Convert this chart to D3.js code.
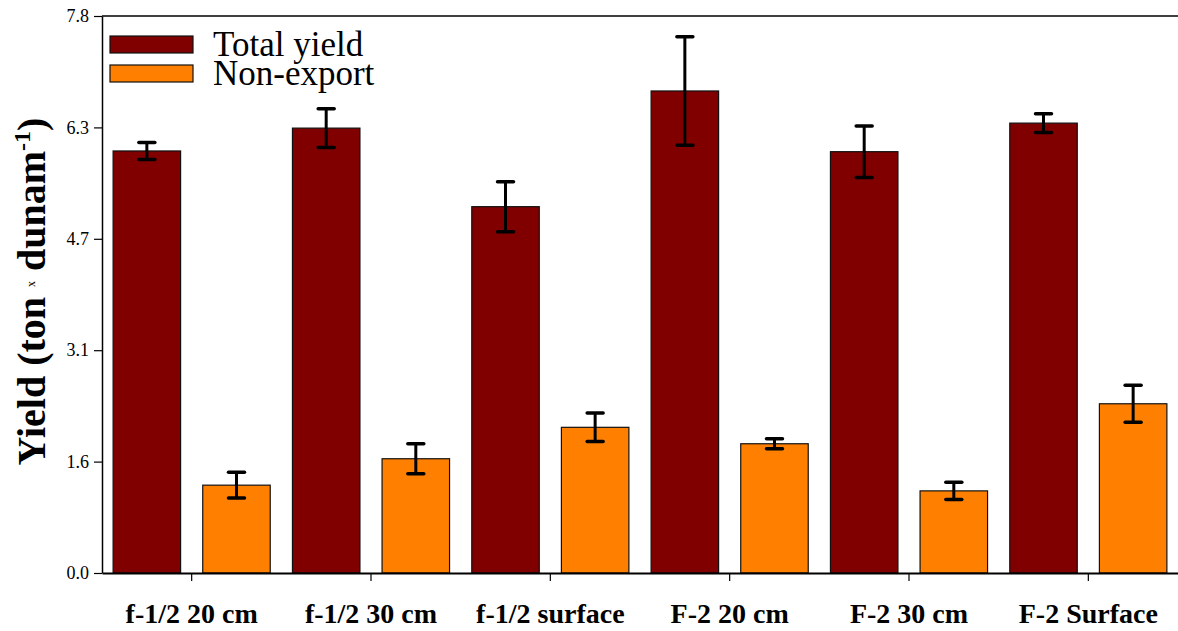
<!DOCTYPE html>
<html>
<head>
<meta charset="utf-8">
<script src="https://cdn.jsdelivr.net/npm/d3@7"></script>
<style>
  body { margin: 0; background: #fff; }
  svg text { font-family: "Liberation Serif", "Times New Roman", Times, serif !important; }
</style>
</head>
<body>
<div id="chart"></div>
<script>
// data
var categories = ["f-1/2 20 cm", "f-1/2 30 cm", "f-1/2 surface", "F-2 20 cm", "F-2 30 cm", "F-2 Surface"];
var totalYield = [5.91, 6.23, 5.13, 6.75, 5.90, 6.30];
var totalErr   = [0.12, 0.27, 0.35, 0.76, 0.36, 0.13];
var nonExport  = [1.23, 1.60, 2.04, 1.81, 1.15, 2.37];
var nonExportErr = [0.18, 0.21, 0.20, 0.07, 0.12, 0.26];
var yTicks = [0, 1.56, 3.12, 4.68, 6.24, 7.8];
var yTickLabels = ["0.0", "1.6", "3.1", "4.7", "6.3", "7.8"];
var seriesNames = ["Total yield", "Non-export"];
var colors = ["#800000", "#ff8000"];

var W = 1178, H = 631;
var margin = { top: 16, right: 0, bottom: 58, left: 102 },
  width = W - margin.left - margin.right,
  height = H - margin.top - margin.bottom;

var svg = d3.select("#chart")
  .append("svg")
  .attr("width", W)
  .attr("height", H)
  .append("g")
  .attr("transform", "translate(" + margin.left + "," + margin.top + ")");

var x = d3.scaleBand()
  .domain(categories)
  .range([0, width])
  .paddingInner(0)
  .paddingOuter(0);

var x1 = d3.scaleBand()
  .domain([0, 1])
  .range([0, x.bandwidth()])
  .paddingInner(0.247)
  .paddingOuter(0.124);

var y = d3.scaleLinear()
  .domain([0, 7.8])
  .range([height, 0]);

// top frame line
svg.append("line")
  .attr("x1", 0).attr("x2", width)
  .attr("y1", 0).attr("y2", 0)
  .attr("stroke", "#000").attr("stroke-width", 1.5);

var rows = categories.map(function (c, i) {
  return [
    { cat: c, s: 0, v: totalYield[i], e: totalErr[i] },
    { cat: c, s: 1, v: nonExport[i], e: nonExportErr[i] }
  ];
});
var flat = [].concat.apply([], rows);

// bars
svg.append("g")
  .selectAll("rect")
  .data(flat)
  .enter()
  .append("rect")
  .attr("x", function (d) { return x(d.cat) + x1(d.s); })
  .attr("y", function (d) { return y(d.v); })
  .attr("width", x1.bandwidth())
  .attr("height", function (d) { return height - y(d.v); })
  .attr("fill", function (d) { return colors[d.s]; })
  .attr("stroke", "#111")
  .attr("stroke-width", 1.2);

// error bars
var eb = svg.append("g").selectAll("g")
  .data(flat)
  .enter()
  .append("g")
  .attr("transform", function (d) { return "translate(" + (x(d.cat) + x1(d.s) + x1.bandwidth() / 2) + ",0)"; });
eb.append("line")
  .attr("y1", function (d) { return y(d.v + d.e); })
  .attr("y2", function (d) { return y(d.v - d.e); })
  .attr("stroke", "#000").attr("stroke-width", 3);
eb.append("line")
  .attr("x1", -8).attr("x2", 8)
  .attr("y1", function (d) { return y(d.v + d.e); })
  .attr("y2", function (d) { return y(d.v + d.e); })
  .attr("stroke", "#000").attr("stroke-width", 3.5).attr("stroke-linecap", "round");
eb.append("line")
  .attr("x1", -8).attr("x2", 8)
  .attr("y1", function (d) { return y(d.v - d.e); })
  .attr("y2", function (d) { return y(d.v - d.e); })
  .attr("stroke", "#000").attr("stroke-width", 3.5).attr("stroke-linecap", "round");

// Y axis
var yAxis = svg.append("g")
  .call(d3.axisLeft(y)
    .tickValues(yTicks)
    .tickFormat(function (d, i) { return yTickLabels[i]; })
    .tickSize(8)
    .tickSizeOuter(0)
    .tickPadding(5));
yAxis.attr("font-family", null);
yAxis.select(".domain").attr("stroke-width", 1.5);
yAxis.selectAll("line").attr("stroke-width", 1.2);
yAxis.selectAll("text")
  .attr("font-size", 18)
  .attr("fill", "#000");

// X axis
var xAxis = svg.append("g")
  .attr("transform", "translate(0," + height + ")")
  .call(d3.axisBottom(x).tickSize(8).tickSizeOuter(0).tickPadding(22));
xAxis.attr("font-family", null);
xAxis.select(".domain").attr("stroke-width", 2);
xAxis.selectAll("line").attr("stroke-width", 1.2);
xAxis.selectAll("text")
  .attr("font-size", 28)
  .attr("font-weight", "bold")
  .attr("fill", "#000");

// Y axis title
var yt = svg.append("text")
  .attr("transform", "translate(" + (-57) + "," + (height / 2 - 3) + ") rotate(-90)")
  .attr("text-anchor", "middle")
  .attr("font-size", 40)
  .attr("font-weight", "bold")
  .attr("fill", "#000");
yt.append("tspan").text("Yield (ton ");
yt.append("tspan").attr("font-size", 12).attr("font-weight", "normal").attr("dy", -10).text("x");
yt.append("tspan").attr("dy", 10).text(" dunam");
yt.append("tspan").attr("font-size", 24).attr("dy", -15).text("-1");
yt.append("tspan").attr("dy", 15).text(")");

// legend
var lg = svg.append("g").attr("transform", "translate(8,20)");
seriesNames.forEach(function (name, i) {
  lg.append("rect")
    .attr("x", 0).attr("y", i * 29)
    .attr("width", 83).attr("height", 17)
    .attr("fill", colors[i])
    .attr("stroke", "#111").attr("stroke-width", 1.2);
  lg.append("text")
    .attr("x", 103).attr("y", i * 29 + 20)
    .attr("font-size", 35)
    .attr("fill", "#000")
    .text(name);
});
</script>
</body>
</html>
